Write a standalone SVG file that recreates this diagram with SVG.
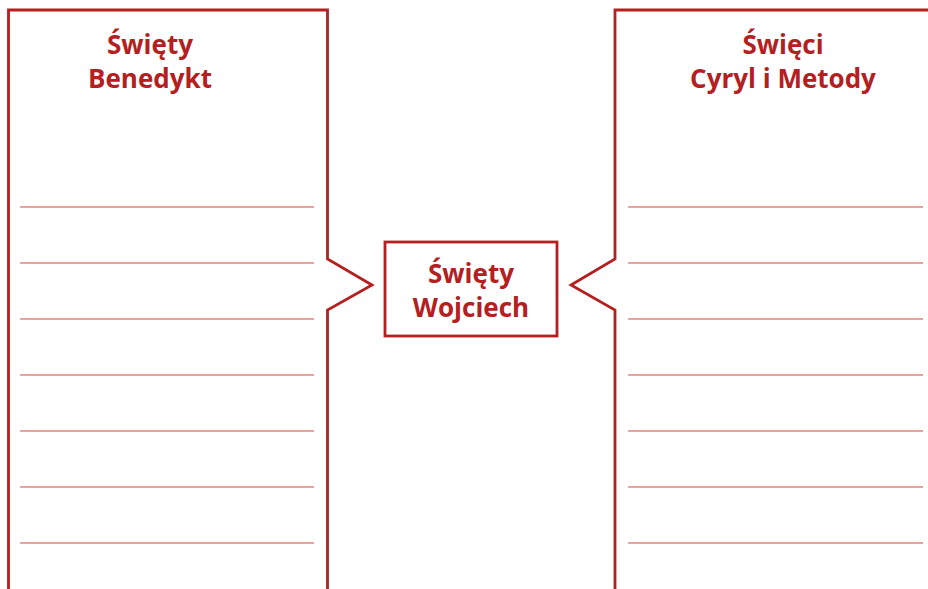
<svg xmlns="http://www.w3.org/2000/svg" width="928" height="589" viewBox="0 0 928 589">
<style>
.frame{fill:none;stroke:#b3201f;stroke-width:2.8;stroke-linejoin:miter}
.rule{stroke:#d8443e;stroke-width:1.2}
.t{font-family:"Open Sans","Noto Sans",sans-serif;font-weight:bold;font-size:26px;fill:#b3201f;text-anchor:middle}
</style>
<rect width="928" height="589" fill="#ffffff"/>
<g id="benedykt">
<path class="frame" d="M8.5,595 V10 H327.5 V259 L372,285 L327.5,310 V595"/>
<text class="t" x="150" y="54">Święty</text>
<text class="t" x="150" y="88">Benedykt</text>
<g class="rule">
<line x1="20" y1="207" x2="314" y2="207"/>
<line x1="20" y1="263" x2="314" y2="263"/>
<line x1="20" y1="319" x2="314" y2="319"/>
<line x1="20" y1="375" x2="314" y2="375"/>
<line x1="20" y1="431" x2="314" y2="431"/>
<line x1="20" y1="487" x2="314" y2="487"/>
<line x1="20" y1="543" x2="314" y2="543"/>
</g>
</g>
<g id="cyryl-metody">
<path class="frame" d="M935,10 H615 V259 L571,285 L615,310 V595"/>
<text class="t" x="783" y="54">Święci</text>
<text class="t" x="783" y="88">Cyryl i Metody</text>
<g class="rule">
<line x1="628" y1="207" x2="923" y2="207"/>
<line x1="628" y1="263" x2="923" y2="263"/>
<line x1="628" y1="319" x2="923" y2="319"/>
<line x1="628" y1="375" x2="923" y2="375"/>
<line x1="628" y1="431" x2="923" y2="431"/>
<line x1="628" y1="487" x2="923" y2="487"/>
<line x1="628" y1="543" x2="923" y2="543"/>
</g>
</g>
<g id="wojciech">
<rect class="frame" x="385" y="242" width="172" height="94"/>
<text class="t" x="471" y="283">Święty</text>
<text class="t" x="471" y="317">Wojciech</text>
</g>
<g id="connectors"></g>
</svg>
